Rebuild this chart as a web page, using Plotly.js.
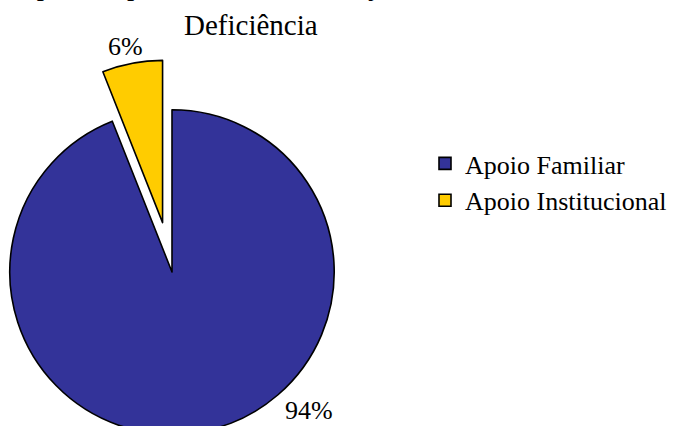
<!DOCTYPE html>
<html><head><meta charset="utf-8">
<script src="https://cdn.plot.ly/plotly-3.0.1.min.js"></script>
<style>html,body{margin:0;padding:0;overflow:hidden;width:697px;height:426px;background:#fff}
#chart{position:absolute;left:-100px;top:-60px;width:897px;height:586px}</style>
</head><body><div id="chart"></div>
<script>
const labels = ["Apoio Familiar", "Apoio Institucional"];
const values = [94, 6];
const colors = ["#333399", "#FFCC00"];
const pulls = [0, 0.31];
const titleLines = ["Tipo de Apoio Prestado aos Sujeitos com", "Deficiência"];

const W = 897, H = 586;
const font = "Liberation Serif, Times New Roman, serif";
const total = values.reduce((a,b)=>a+b,0);
const pct = values.map(v => Math.round(v/total*100) + "%");
const labelPos = [[409, 470], [225, 107]]; // pixel positions within the div
const titlePos = [[351, 45], [351, 85]];

const data = [{
  type: "pie",
  labels: labels,
  values: values,
  sort: false,
  direction: "clockwise",
  rotation: 0,
  pull: pulls,
  textinfo: "none",
  hoverinfo: "label+percent",
  marker: {colors: colors, line: {color: "#000", width: 1.6}},
  domain: {x: [59.5/W, 484.5/W], y: [41.5/H, 466.5/H]}
}];

const annotations = pct.map((t, i) => ({
  text: t, showarrow: false, xref: "paper", yref: "paper",
  x: labelPos[i][0]/W, y: 1 - labelPos[i][1]/H, xanchor: "center", yanchor: "middle",
  font: {family: font, size: 26, color: "#000"}
}));
titleLines.forEach((t, i) => annotations.push({
  text: t, showarrow: false, xref: "paper", yref: "paper",
  x: titlePos[i][0]/W, y: 1 - titlePos[i][1]/H, xanchor: "center", yanchor: "middle",
  font: {family: font, size: 29, color: "#000"}
}));

const layout = {
  width: W, height: H,
  margin: {l: 0, r: 0, t: 0, b: 0},
  paper_bgcolor: "#fff",
  showlegend: true,
  legend: {x: 525/W, y: 1 - 200/H, xanchor: "left", yanchor: "top",
    font: {family: font, size: 26, color: "#000"}, bgcolor: "rgba(0,0,0,0)", tracegroupgap: 0},
  annotations: annotations
};
Plotly.newPlot("chart", data, layout, {displayModeBar: false, staticPlot: true});
</script></body></html>
